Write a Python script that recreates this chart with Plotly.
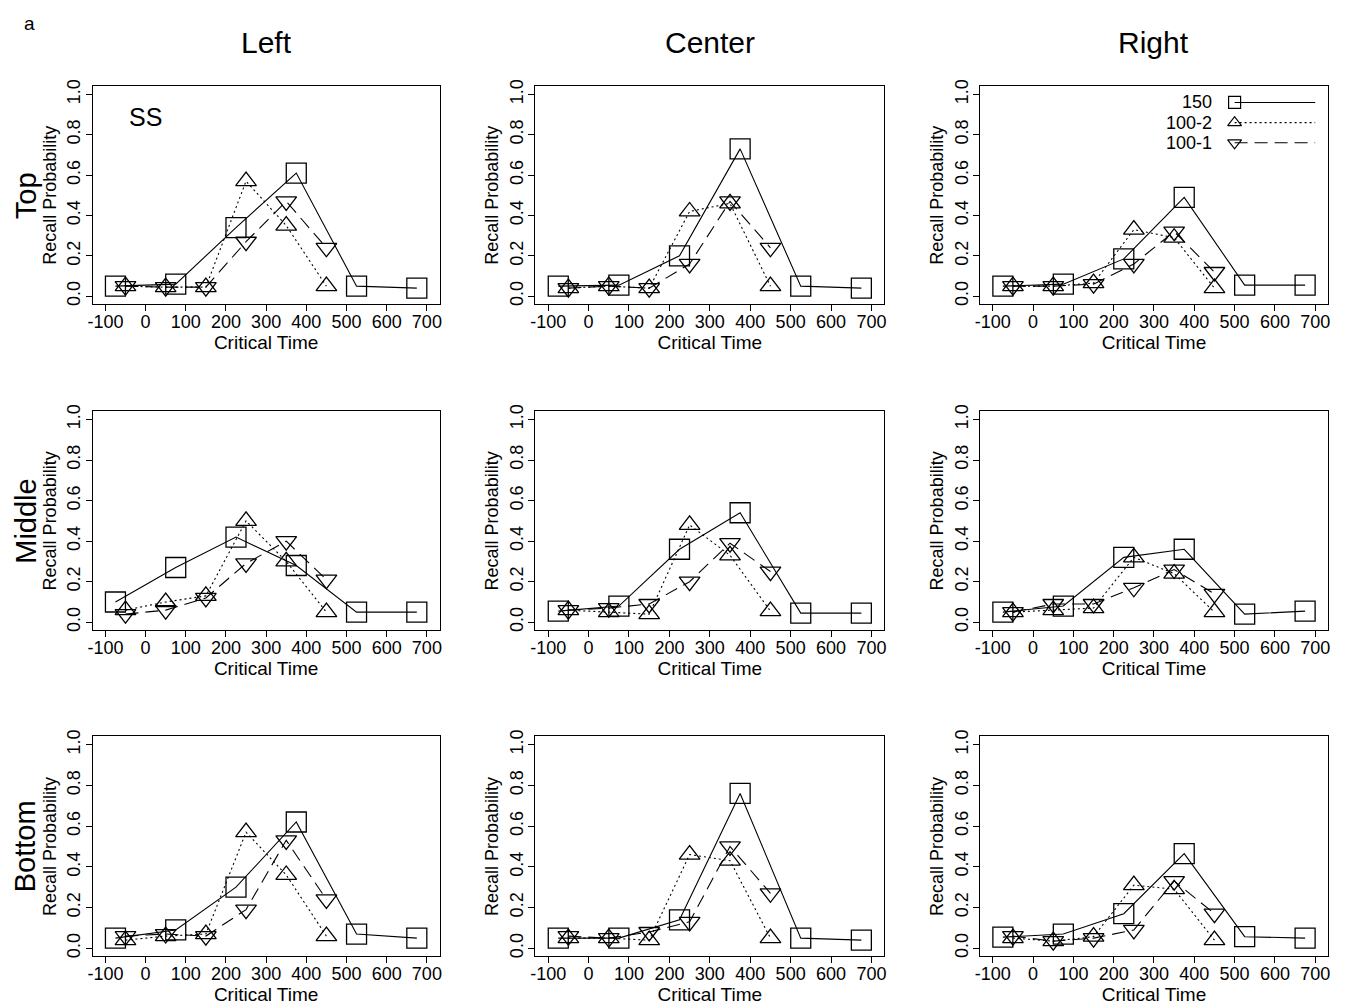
import plotly.graph_objects as go

# ---------------- data ----------------
COLS = ["Left", "Center", "Right"]
ROWS = ["Top", "Middle", "Bottom"]
SERIES = ["150", "100-2", "100-1"]

X150 = [-75, 75, 225, 375, 525, 675]
X100 = [-50, 50, 150, 250, 350, 450]

# Top row
top_left_150 = [0.05, 0.06, 0.34, 0.61, 0.05, 0.04]
top_left_1002 = [0.05, 0.045, 0.045, 0.57, 0.35, 0.05]
top_left_1001 = [0.05, 0.045, 0.045, 0.27, 0.47, 0.24]

top_center_150 = [0.05, 0.055, 0.20, 0.73, 0.05, 0.04]
top_center_1002 = [0.04, 0.05, 0.04, 0.42, 0.46, 0.05]
top_center_1001 = [0.04, 0.05, 0.04, 0.16, 0.47, 0.24]

top_right_150 = [0.05, 0.06, 0.185, 0.49, 0.055, 0.055]
top_right_1002 = [0.05, 0.05, 0.065, 0.33, 0.29, 0.04]
top_right_1001 = [0.05, 0.05, 0.06, 0.16, 0.32, 0.12]

# Middle row
middle_left_150 = [0.10, 0.27, 0.42, 0.28, 0.05, 0.05]
middle_left_1002 = [0.06, 0.10, 0.13, 0.50, 0.30, 0.05]
middle_left_1001 = [0.04, 0.06, 0.12, 0.29, 0.40, 0.21]

middle_center_150 = [0.055, 0.08, 0.36, 0.54, 0.045, 0.045]
middle_center_1002 = [0.06, 0.05, 0.04, 0.48, 0.33, 0.055]
middle_center_1001 = [0.06, 0.07, 0.09, 0.20, 0.39, 0.25]

middle_right_150 = [0.05, 0.08, 0.32, 0.36, 0.04, 0.055]
middle_right_1002 = [0.05, 0.06, 0.07, 0.32, 0.24, 0.05]
middle_right_1001 = [0.05, 0.09, 0.09, 0.17, 0.26, 0.14]

# Bottom row
bottom_left_150 = [0.05, 0.09, 0.30, 0.62, 0.07, 0.05]
bottom_left_1002 = [0.04, 0.06, 0.07, 0.57, 0.36, 0.06]
bottom_left_1001 = [0.06, 0.07, 0.06, 0.19, 0.53, 0.24]

bottom_center_150 = [0.05, 0.05, 0.14, 0.76, 0.05, 0.04]
bottom_center_1002 = [0.05, 0.05, 0.04, 0.46, 0.43, 0.05]
bottom_center_1001 = [0.06, 0.05, 0.08, 0.13, 0.50, 0.27]

bottom_right_150 = [0.055, 0.07, 0.17, 0.465, 0.057, 0.05]
bottom_right_1002 = [0.05, 0.035, 0.057, 0.31, 0.29, 0.04]
bottom_right_1001 = [0.06, 0.035, 0.05, 0.09, 0.33, 0.17]

PANELS = [
    [(top_left_150, top_left_1002, top_left_1001),
     (top_center_150, top_center_1002, top_center_1001),
     (top_right_150, top_right_1002, top_right_1001)],
    [(middle_left_150, middle_left_1002, middle_left_1001),
     (middle_center_150, middle_center_1002, middle_center_1001),
     (middle_right_150, middle_right_1002, middle_right_1001)],
    [(bottom_left_150, bottom_left_1002, bottom_left_1001),
     (bottom_center_150, bottom_center_1002, bottom_center_1001),
     (bottom_right_150, bottom_right_1002, bottom_right_1001)],
]

X_TICKS = [-100, 0, 100, 200, 300, 400, 500, 600, 700]
Y_TICKS = [0.0, 0.2, 0.4, 0.6, 0.8, 1.0]

# ---------------- styles ----------------
W, H = 1346, 1008
FONT = "Liberation Sans, Arial, Helvetica, sans-serif"
STYLE = {
    "150": dict(symbol="square-open", dash="solid", size=20),
    "100-2": dict(symbol="triangle-up-open", dash="2px,3px", size=18),
    "100-1": dict(symbol="triangle-down-open", dash="13px,7px", size=18),
}
COL_PX = [(88, 437), (533, 884), (980, 1330)]
ROW_PX = [(80, 300), (408, 629), (736, 958)]
XRANGE = [-132, 732]
YRANGE = [-0.04, 1.04]

fig = go.Figure()
layout = dict(
    width=W, height=H,
    margin=dict(l=0, r=0, t=0, b=0),
    paper_bgcolor="white", plot_bgcolor="white",
    showlegend=False,
    font=dict(family=FONT, color="black"),
)

annotations = []
k = 0
for r in range(3):
    for c in range(3):
        k += 1
        xa = "x" if k == 1 else f"x{k}"
        ya = "y" if k == 1 else f"y{k}"
        xkey = "xaxis" if k == 1 else f"xaxis{k}"
        ykey = "yaxis" if k == 1 else f"yaxis{k}"
        x0, x1 = COL_PX[c]
        y0, y1 = ROW_PX[r]
        layout[xkey] = dict(
            domain=[x0 / W, x1 / W], anchor=ya, range=XRANGE,
            tickvals=X_TICKS, ticktext=[str(v) for v in X_TICKS],
            ticks="outside", ticklen=6, tickwidth=1, tickcolor="black",
            ticklabelstandoff=-5,
            showline=True, linecolor="black", linewidth=1, mirror=True,
            showgrid=False, zeroline=False,
            tickfont=dict(size=18, family=FONT, color="black"),
            title=dict(text="Critical Time", font=dict(size=19, family=FONT, color="black"), standoff=0),
        )
        layout[ykey] = dict(
            domain=[1 - y1 / H, 1 - y0 / H], anchor=xa, range=YRANGE,
            tickvals=Y_TICKS, ticktext=[f"{v:.1f}" for v in Y_TICKS],
            tickangle=-90,
            ticks="outside", ticklen=6, tickwidth=1, tickcolor="black",
            ticklabelstandoff=-2,
            showline=True, linecolor="black", linewidth=1, mirror=True,
            showgrid=False, zeroline=False,
            tickfont=dict(size=18, family=FONT, color="black"),
            title=dict(text="Recall Probability", font=dict(size=18, family=FONT, color="black"), standoff=3),
        )
        s150, s1002, s1001 = PANELS[r][c]
        for name, xs, ys in (("150", X150, s150), ("100-2", X100, s1002), ("100-1", X100, s1001)):
            st = STYLE[name]
            fig.add_trace(go.Scatter(
                x=xs, y=ys, mode="lines+markers", name=name,
                xaxis=xa, yaxis=ya,
                line=dict(color="black", width=1.1, dash=st["dash"]),
                marker=dict(symbol=st["symbol"], size=st["size"], color="black",
                            line=dict(color="black", width=1.3)),
            ))

# ---------------- legend (top-right panel), drawn in its data coordinates ----------------
LEG_Y = [0.96, 0.86, 0.76]
LEG_MARKER_X = 500
LEG_LINE_END = 700
LEG_TEXT_X = 450
for name, ly in zip(SERIES, LEG_Y):
    st = STYLE[name]
    fig.add_trace(go.Scatter(
        x=[LEG_MARKER_X, LEG_LINE_END], y=[ly, ly], mode="lines",
        xaxis="x3", yaxis="y3",
        line=dict(color="black", width=1.1, dash=st["dash"]), hoverinfo="skip",
    ))
    fig.add_trace(go.Scatter(
        x=[LEG_MARKER_X], y=[ly], mode="markers",
        xaxis="x3", yaxis="y3",
        marker=dict(symbol=st["symbol"], size=12, color="black",
                    line=dict(color="black", width=1.2)), hoverinfo="skip",
    ))
    annotations.append(dict(
        x=LEG_TEXT_X, y=ly, xref="x3", yref="y3", text=name, showarrow=False,
        xanchor="right", yanchor="middle", font=dict(size=18, family=FONT, color="black"),
    ))

# "SS" label in first panel
annotations.append(dict(x=0, y=0.89, xref="x", yref="y", text="SS", showarrow=False,
                        xanchor="center", yanchor="middle",
                        font=dict(size=25, family=FONT, color="black")))

# Column titles
for c, name in enumerate(COLS):
    x0, x1 = COL_PX[c]
    annotations.append(dict(x=(x0 + x1) / 2 / W, y=1 - 36 / H, xref="paper", yref="paper",
                            text=name, showarrow=False, xanchor="center", yanchor="middle",
                            font=dict(size=30, family=FONT, color="black")))
# Row titles
for r, name in enumerate(ROWS):
    y0, y1 = ROW_PX[r]
    annotations.append(dict(x=21 / W, y=1 - (y0 + y1) / 2 / H, xref="paper", yref="paper",
                            text=name, showarrow=False, xanchor="center", yanchor="middle",
                            textangle=-90, font=dict(size=29, family=FONT, color="black")))
# Panel letter
annotations.append(dict(x=25 / W, y=1 - 17 / H, xref="paper", yref="paper", text="a",
                        showarrow=False, xanchor="center", yanchor="middle",
                        font=dict(size=19, family=FONT, color="black")))

layout["annotations"] = annotations
fig.update_layout(**layout)
fig.write_html("out.html")
